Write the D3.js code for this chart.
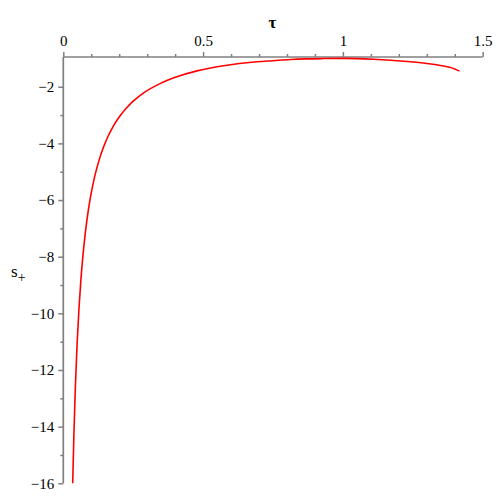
<!DOCTYPE html>
<html>
<head>
<meta charset="utf-8">
<script src="https://cdn.jsdelivr.net/npm/d3@7"></script>
<style>
  html, body { margin: 0; padding: 0; background: #fff; }
  svg { display: block; }
  svg text { font-family: "Liberation Serif", "Times New Roman", serif; }
</style>
</head>
<body>
<svg id="chart" width="500" height="500"></svg>
<script>
// Data
const tau = [0.0336, 0.038, 0.043, 0.049, 0.056, 0.063, 0.070, 0.078, 0.089, 0.100,
             0.113, 0.128, 0.145, 0.161, 0.180, 0.200, 0.225, 0.250, 0.290, 0.346,
             0.406, 0.478, 0.573, 0.692, 0.750, 0.812, 0.870, 0.930, 1.000, 1.110,
             1.230, 1.300, 1.349, 1.380, 1.400, 1.417];
const sPlus = [-16.0, -14.24, -12.65, -11.16, -9.84, -8.81, -7.99, -7.22, -6.39, -5.75,
               -5.14, -4.59, -4.10, -3.73, -3.37, -3.07, -2.76, -2.51, -2.20, -1.89,
               -1.65, -1.44, -1.26, -1.12, -1.08, -1.037, -1.015, -1.005, -1.0, -1.03,
               -1.11, -1.18, -1.25, -1.31, -1.37, -1.45];
const xMajorTicks = [0, 0.5, 1, 1.5];
const xMinorTicks = [0.1, 0.2, 0.3, 0.4, 0.6, 0.7, 0.8, 0.9, 1.1, 1.2, 1.3, 1.4];
const yMajorTicks = [-2, -4, -6, -8, -10, -12, -14, -16];
const yMinorTicks = [-3, -5, -7, -9, -11, -13, -15];

const svg = d3.select("#chart");
const x = d3.scaleLinear().domain([0, 1.5]).range([63.3, 482.7]);
const y = d3.scaleLinear().domain([-16, -0.95]).range([483.3, 57]);

const axisColor = "#808080";
const font = "Liberation Serif";

// X axis (top)
const gx = svg.append("g").attr("transform", `translate(0,${y(-0.95)})`);
gx.call(d3.axisTop(x).tickValues(xMajorTicks).tickSize(5).tickPadding(6)
  .tickFormat(d => d3.format("")(d)));
const gxm = svg.append("g").attr("transform", `translate(0,${y(-0.95)})`);
gxm.call(d3.axisTop(x).tickValues(xMinorTicks).tickSize(3).tickFormat(""));

// Y axis (left)
const gy = svg.append("g").attr("transform", `translate(${x(0)},0)`);
gy.call(d3.axisLeft(y).tickValues(yMajorTicks).tickSize(5).tickPadding(4)
  .tickFormat(d => "\u2212" + Math.abs(d)));
const gym = svg.append("g").attr("transform", `translate(${x(0)},0)`);
gym.call(d3.axisLeft(y).tickValues(yMinorTicks).tickSize(3).tickFormat(""));

svg.selectAll("g").attr("font-family", font);
svg.selectAll(".domain").attr("stroke", axisColor).attr("stroke-width", 1.7);
svg.selectAll(".tick line").attr("stroke", axisColor).attr("stroke-width", 1.5);
gym.select(".domain").remove();
gxm.select(".domain").remove();
svg.selectAll(".tick text").attr("fill", "#000").attr("font-family", font).attr("font-size", 15);
gy.select(".domain").attr("d", `M0,${y(-16)}V${y(-0.95)}`);
gx.select(".domain").attr("d", `M${x(0)},0H${x(1.5)}`);

// Curve
const pts = tau.map((t, i) => [t, sPlus[i]]);
svg.append("path")
  .datum(pts)
  .attr("fill", "none")
  .attr("stroke", "#ff0000")
  .attr("stroke-width", 1.6)
  .attr("d", d3.line().x(d => x(d[0])).y(d => y(d[1])).curve(d3.curveMonotoneX));

// Axis titles
svg.append("text")
  .attr("x", 272.5).attr("y", 28)
  .attr("text-anchor", "middle")
  .attr("font-family", font).attr("font-size", 17).attr("font-weight", "bold")
  .text("\u03c4");

const yl = svg.append("text")
  .attr("x", 11).attr("y", 277)
  .attr("font-family", font).attr("font-size", 17);
yl.append("tspan").text("s");
yl.append("tspan").attr("dy", 5).attr("font-size", 14).text("+");
</script>
</body>
</html>
